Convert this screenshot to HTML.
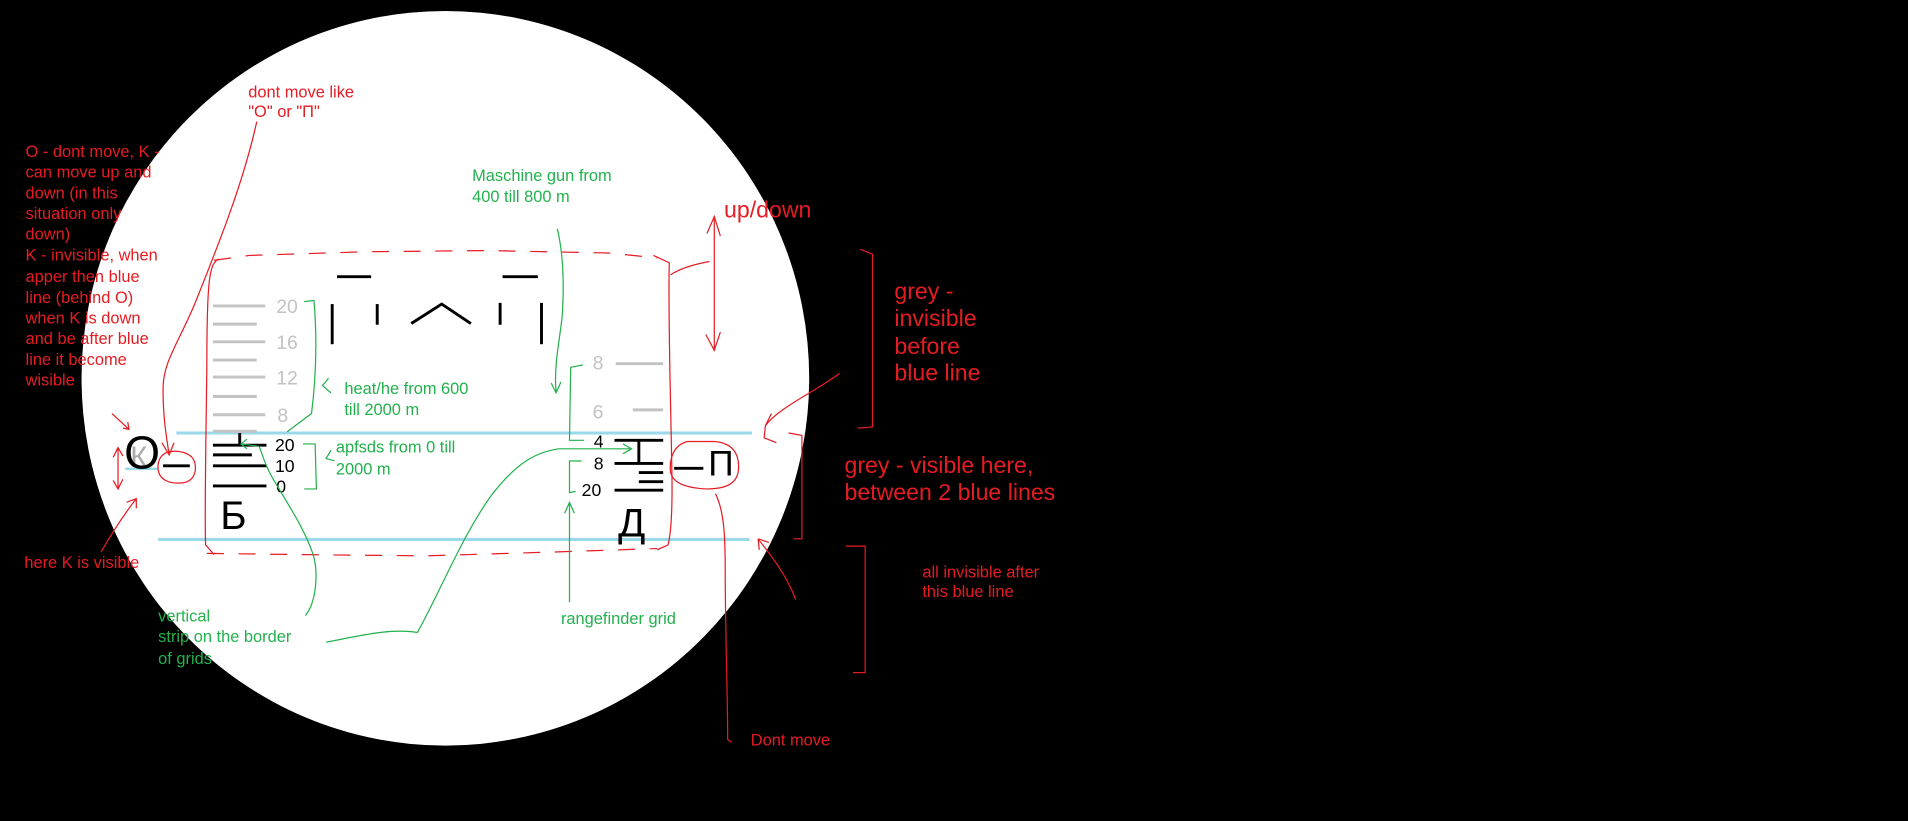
<!DOCTYPE html>
<html><head><meta charset="utf-8"><style>
html,body{margin:0;padding:0;background:#000;width:1908px;height:821px;overflow:hidden}
svg{display:block}
text{font-family:"Liberation Sans","DejaVu Sans",sans-serif}
.r{fill:#e51c23;font-size:13.5px}
.g{fill:#22b14c;font-size:13.5px}
.R{fill:#e51c23;font-size:19px}
.rl{fill:none;stroke:#e51c23;stroke-width:1}
.gl{fill:none;stroke:#22b14c;stroke-width:1}
.k{stroke:#000;stroke-width:2.4}
.gy{stroke:#c3c3c3;stroke-width:2.4}
</style></head><body>
<svg width="1908" height="821" viewBox="0 0 1568 675" preserveAspectRatio="none" xmlns="http://www.w3.org/2000/svg">
<rect width="1568" height="675" fill="#000"/>
<ellipse cx="366" cy="311" rx="299" ry="302" fill="#fff"/>

<!-- blue lines -->
<line x1="145" y1="356" x2="618" y2="356" stroke="#99d9ea" stroke-width="2.5"/>
<line x1="130" y1="443.5" x2="616" y2="443.5" stroke="#99d9ea" stroke-width="2.5"/>
<line x1="103" y1="385.5" x2="130" y2="385.5" stroke="#99d9ea" stroke-width="2"/>

<!-- top marks -->
<line class="k" x1="277" y1="227.5" x2="305" y2="227.5"/>
<line class="k" x1="413" y1="227.5" x2="442" y2="227.5"/>
<line class="k" x1="273" y1="250" x2="273" y2="283"/>
<line class="k" x1="310" y1="250" x2="310" y2="267"/>
<polyline class="k" fill="none" points="338,266 363,250 387,266"/>
<line class="k" x1="411" y1="249" x2="411" y2="267"/>
<line class="k" x1="445" y1="249" x2="445" y2="283"/>

<!-- left grey scale -->
<g class="gy">
<line x1="175" y1="251.5" x2="218" y2="251.5"/>
<line x1="175" y1="266.5" x2="211" y2="266.5"/>
<line x1="175" y1="281" x2="218" y2="281"/>
<line x1="175" y1="296" x2="211" y2="296"/>
<line x1="175" y1="310" x2="218" y2="310"/>
<line x1="175" y1="326" x2="211" y2="326"/>
<line x1="175" y1="341" x2="218" y2="341"/>
<line x1="175" y1="354.5" x2="211" y2="354.5"/>
</g>
<g fill="#c3c3c3" font-size="16">
<text x="227" y="257.5">20</text>
<text x="227" y="287">16</text>
<text x="227" y="316">12</text>
<text x="228" y="347">8</text>
</g>
<!-- left black scale -->
<line class="k" x1="175" y1="366" x2="219" y2="366"/>
<line class="k" x1="175" y1="374" x2="207" y2="374"/>
<line class="k" x1="175" y1="383" x2="219" y2="383"/>
<line class="k" x1="175" y1="399.5" x2="219" y2="399.5"/>
<line class="k" x1="197" y1="356" x2="197" y2="366" stroke-width="1.5"/>
<g fill="#000" font-size="14.5">
<text x="226" y="371">20</text>
<text x="226" y="388">10</text>
<text x="227" y="405">0</text>
</g>
<text x="181" y="435" font-size="33" fill="#000">Б</text>

<!-- O and K -->
<text x="107" y="384" font-size="24" fill="#aaa">К</text>
<text x="102" y="385" font-size="38" fill="#000">О</text>
<line class="k" x1="134" y1="383" x2="156" y2="383"/>
<path class="rl" d="M143,371 C133,371 129,378 130,386 C131,395 140,398 150,397 C159,396 162,388 160,380 C158,373 150,371 143,371"/>

<!-- right grey scale -->
<line class="gy" x1="506" y1="299" x2="545" y2="299"/>
<line class="gy" x1="520" y1="337" x2="545" y2="337"/>
<g fill="#c3c3c3" font-size="16">
<text x="487" y="304">8</text>
<text x="487" y="344">6</text>
</g>
<!-- right black scale -->
<line class="k" x1="505" y1="362" x2="545" y2="362"/>
<line class="k" x1="525" y1="362" x2="525" y2="381"/>
<line class="k" x1="505" y1="381" x2="545" y2="381"/>
<line class="k" x1="525" y1="388.5" x2="545" y2="388.5"/>
<line class="k" x1="525" y1="396" x2="545" y2="396"/>
<line class="k" x1="505" y1="403" x2="545" y2="403"/>
<g fill="#000" font-size="14.5">
<text x="488" y="368">4</text>
<text x="488" y="386">8</text>
<text x="478" y="408">20</text>
</g>
<text x="508" y="441" font-size="33" fill="#000">Д</text>
<line class="k" x1="554" y1="385" x2="578" y2="385"/>
<text x="582" y="391" font-size="29" fill="#000">П</text>
<path class="rl" d="M565,363 C553,366 550,378 551,388 C553,398 565,401 580,402 C598,402 607,397 607,384 C607,371 600,364 587,363 Z"/>

<!-- dashed rect -->
<path class="rl" stroke-dasharray="14,12" d="M176,214 L205,210 L300,207 L400,206 L500,208 L540,212 M170,455 L250,456 L350,457 L450,454 L540,451"/>
<path class="rl" d="M180,213 C172,216 170,230 170,300 C169,380 168,430 169,448 L176,456"/>
<path class="rl" d="M537,210 L550,216 C549,260 551,320 552,380 C553,420 551,440 549,448 L540,452"/>
<path class="rl" d="M551,226 C560,220 572,217 583,215"/>

<!-- up/down arrow -->
<line class="rl" x1="587" y1="178" x2="587" y2="288"/>
<path class="rl" d="M581,192 L587,178 L592,194 M580,275 L587,288 L592,273"/>

<!-- right brackets -->
<path class="rl" d="M707,205 L717,209 L717,351 L705,352"/>
<path class="rl" d="M648,356 L659,358 L659,443 L652,443"/>
<path class="rl" d="M695,449 L711,449 L711,553 L701,553"/>

<!-- red arrows right -->
<path class="rl" d="M690,307 C670,322 640,335 629,350 M629,350 L628,360 L638,364 M629,350 L634,340"/>
<path class="rl" d="M654,493 C645,470 632,455 623,443 M623,443 L624,452 M623,443 L632,446"/>
<path class="rl" d="M588,406 C595,420 596,440 596,470 C596,520 598,570 598,608 L601,610"/>

<!-- red left lines -->
<path class="rl" d="M211,100 C200,150 180,200 160,250 C145,285 134,298 134,320 C134,345 137,360 139,374 M133,364 L139,374 L143,364"/>
<path class="rl" d="M92,340 L106,353 M101,352 L106,353 L105,347"/>
<path class="rl" d="M97,368 L97,402 M93,376 L97,368 L101,375 M93,395 L97,402 L101,394"/>
<path class="rl" d="M83,454 C92,438 102,423 112,410 M104,413 L112,410 L112,418"/>

<!-- green lines -->
<path class="gl" d="M458,188 C462,205 464,230 462,260 C460,280 455,300 457,322 M453,315 L457,323 L461,314"/>
<path class="gl" d="M479,300 L469,302 L468,362 L480,362"/>
<path class="gl" d="M478,379 L468,379 L468,405 L473,404"/>
<path class="gl" d="M468,413 L468,495 M464,422 L468,413 L472,422"/>
<path class="gl" d="M268,528 C290,524 320,516 343,520 C360,490 380,440 404,407 C425,380 440,372 459,369 L519,369 M512,365 L519,369 L512,373"/>
<path class="gl" d="M251,506 C260,495 262,470 257,455 C250,435 240,420 224,393 C218,383 215,372 213,367 L198,365 M203,361 L198,365 L203,369"/>
<path class="gl" d="M250,248 L258,247 C260,270 261,300 256,340 L236,355"/>
<path class="gl" d="M270,311 L265,317 L272,323"/>
<path class="gl" d="M249,365 L259,365 L260,402 L250,402"/>
<path class="gl" d="M272,370 L268,377 L275,379"/>

<!-- texts -->
<g class="r">
<text x="21" y="129">O - dont move, K -</text>
<text x="21" y="146">can move up and</text>
<text x="21" y="163">down (in this</text>
<text x="21" y="180">situation only</text>
<text x="21" y="197">down)</text>
<text x="21" y="214">K - invisible, when</text>
<text x="21" y="232">apper then blue</text>
<text x="21" y="249">line (behind O)</text>
<text x="21" y="266">when K is down</text>
<text x="21" y="283">and be after blue</text>
<text x="21" y="300">line it become</text>
<text x="21" y="317">wisible</text>
<text x="204" y="80">dont move like</text>
<text x="204" y="96">"O" or "П"</text>
<text x="20" y="467">here K is visible</text>
<text x="758" y="475">all invisible after</text>
<text x="758" y="491">this blue line</text>
<text x="617" y="613">Dont move</text>
</g>
<g class="R">
<text x="595" y="179">up/down</text>
<text x="735" y="246">grey -</text>
<text x="735" y="268">invisible</text>
<text x="735" y="291">before</text>
<text x="735" y="313">blue line</text>
<text x="694" y="389">grey - visible here,</text>
<text x="694" y="411">between 2 blue lines</text>
</g>
<g class="g">
<text x="388" y="149">Maschine gun from</text>
<text x="388" y="166">400 till 800 m</text>
<text x="283" y="324">heat/he from 600</text>
<text x="283" y="341">till 2000 m</text>
<text x="276" y="372">apfsds from 0 till</text>
<text x="276" y="390">2000 m</text>
<text x="130" y="511">vertical</text>
<text x="130" y="528">strip on the border</text>
<text x="130" y="546">of grids</text>
<text x="461" y="513">rangefinder grid</text>
</g>
</svg>
</body></html>
